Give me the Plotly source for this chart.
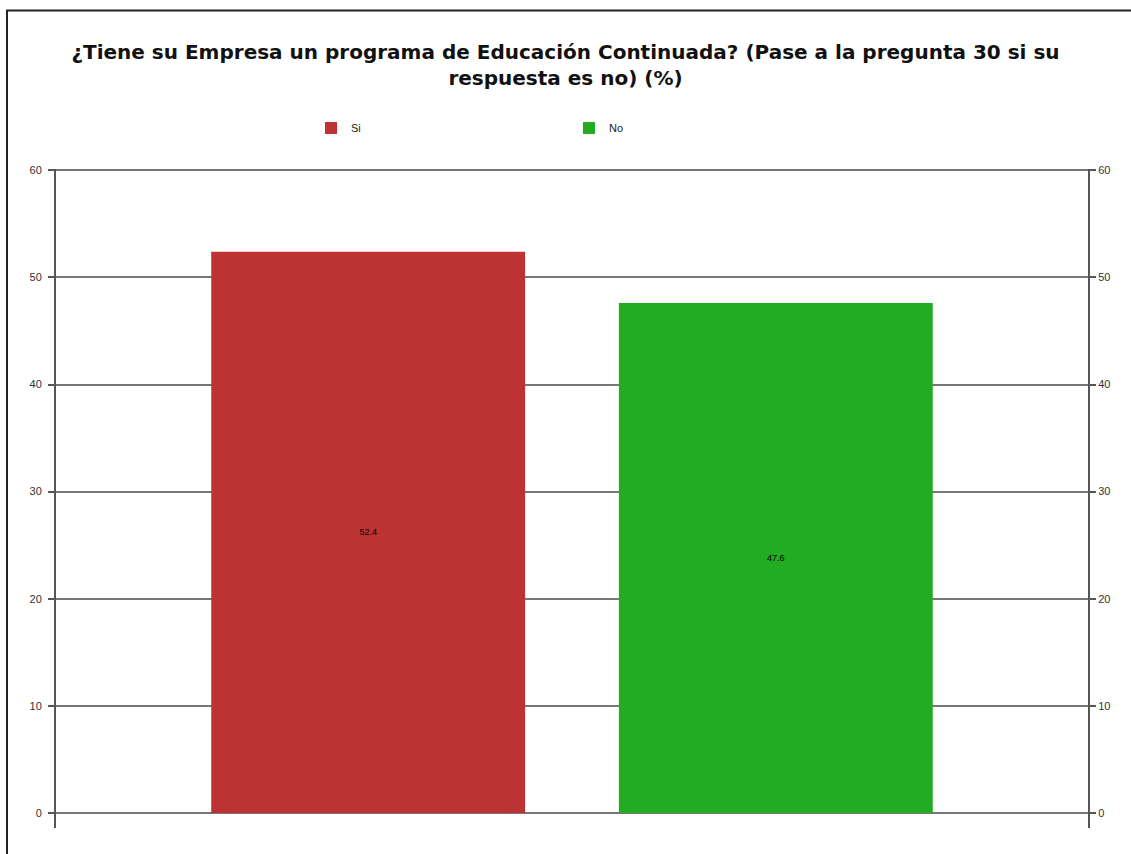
import plotly.graph_objects as go

# Survey answer shares (%)
series_names = ["Si", "No"]
series_values = [52.4, 47.6]
series_colors = ["#bd3333", "#22ac22"]
category = [""]

title_text = ("¿Tiene su Empresa un programa de Educación Continuada? (Pase a la pregunta 30 si su"
              "<br>respuesta es no) (%)")
y_ticks = [0, 10, 20, 30, 40, 50, 60]

W, H = 1131, 854
m_l, m_r, m_t, m_b = 56, 43, 169, 26
plot_w = W - m_l - m_r
plot_h = H - m_t - m_b

fig = go.Figure()
for name, val, col in zip(series_names, series_values, series_colors):
    fig.add_trace(go.Bar(
        x=category, y=[val], name=name,
        marker=dict(color=col, line=dict(width=0)),
        text=[f"{val:.1f}"], textposition="inside", insidetextanchor="middle",
        textangle=0, textfont=dict(size=9, color="#000000"),
        constraintext="none", hoverinfo="name+y",
    ))

# mirror of the value scale on the right-hand side
fig.add_trace(go.Scatter(
    x=category, y=series_values, yaxis="y2", mode="none",
    showlegend=False, hoverinfo="skip",
))

axis_common = dict(
    range=[-1.4, 60.12], tickvals=y_ticks, ticks="outside", ticklen=6,
    tickcolor="#555555", tickwidth=1.5, showline=True, linecolor="#555555",
    linewidth=2, showgrid=True, gridcolor="#777777", gridwidth=2,
    zeroline=False, tickfont=dict(size=11, color="#333333"),
)

fig.update_layout(
    width=W, height=H,
    margin=dict(l=m_l, r=m_r, t=m_t, b=m_b),
    paper_bgcolor="white", plot_bgcolor="white",
    font=dict(family="Liberation Sans, Arial, sans-serif", color="#222222"),
    title=dict(text=f"<b>{title_text}</b>", x=0.5, xanchor="center",
               y=1 - 59 / H, yanchor="middle",
               font=dict(size=20, color="#111111",
                         family="DejaVu Sans, sans-serif")),
    barmode="group", bargap=0.21, bargroupgap=0.23,
    showlegend=True,
    legend=dict(orientation="h", x=(311 - m_l) / plot_w, xanchor="left",
                y=1 + (m_t - 128) / plot_h, yanchor="middle",
                font=dict(size=11, color="#222222"),
                entrywidth=213, entrywidthmode="pixels",
                bgcolor="rgba(0,0,0,0)"),
    xaxis=dict(showticklabels=False, ticks="", showgrid=False,
               showline=False, zeroline=False),
    yaxis=dict(side="left", ticklabelstandoff=4, **axis_common),
    yaxis2=dict(side="right", overlaying="y", anchor="x", **axis_common),
)

# outer frame of the chart card
fig.add_shape(type="rect", xref="paper", yref="paper",
              x0=(7 - m_l) / plot_w, x1=(W + 20 - m_l) / plot_w,
              y0=-(m_b + 20) / plot_h, y1=1 + (m_t - 10.5) / plot_h,
              line=dict(color="#222222", width=2), layer="below")

fig.write_html("out.html")
